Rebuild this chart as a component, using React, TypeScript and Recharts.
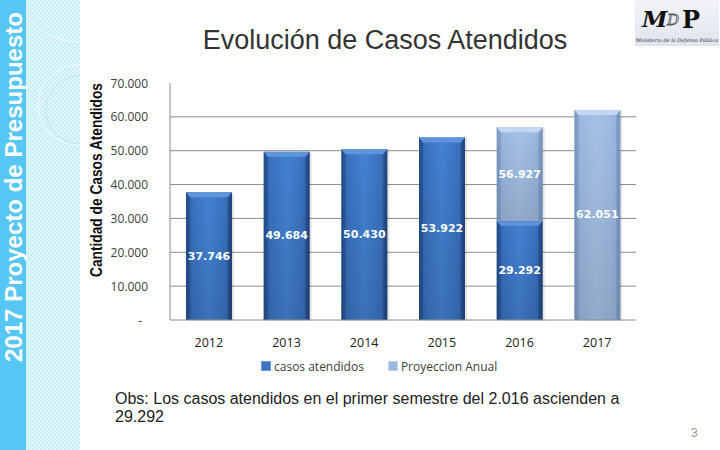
import React from 'react';
import {
  BarChart,
  Bar,
  XAxis,
  YAxis,
  CartesianGrid,
  Legend,
  LabelList,
  Label,
} from 'recharts';

// data
const years = ['2012', '2013', '2014', '2015', '2016', '2017'];
const casosAtendidos = [37746, 49684, 50430, 53922, 29292, 0];
const proyeccionAnual = [0, 0, 0, 0, 56927, 62051];
const yTicks = [0, 10000, 20000, 30000, 40000, 50000, 60000, 70000];
const gridValues = [10000, 20000, 30000, 40000, 50000, 60000];

const chartData = years.map((year, i) => ({
  year,
  casos: casosAtendidos[i],
  proyStack: proyeccionAnual[i] ? proyeccionAnual[i] - casosAtendidos[i] : 0,
  proyTotal: proyeccionAnual[i],
}));

const fmt = (v: number) => (v === 0 ? '-' : v.toLocaleString('de-DE'));

const LABEL_FONT = '"Open Sans", "Liberation Sans", sans-serif';

// Excel style bar: horizontal shading, bevelled top edge, soft shadow
const BevelBar = (props: any) => {
  const { x, y, width, height, tone } = props;
  if (!height || height <= 0) return null;
  const light = tone === 'light';
  const bevel = Math.min(5, height);
  return (
    <g>
      <rect x={x + 2} y={y + 1} width={width} height={height} fill="rgba(0,0,0,0.10)" />
      <rect x={x} y={y} width={width} height={height} fill={light ? 'url(#gLight)' : 'url(#gDark)'} />
      <rect x={x} y={y} width={width} height={height} fill="url(#gShade)" />
      <polygon
        points={`${x},${y} ${x + width},${y} ${x + width - 4},${y + bevel} ${x + 4},${y + bevel}`}
        fill={light ? '#c4d7ef' : '#5f94db'}
      />
      <polygon
        points={`${x},${y} ${x + 4},${y + bevel} ${x + 4},${y + height} ${x},${y + height}`}
        fill={light ? 'rgba(60,90,140,0.18)' : 'rgba(10,30,70,0.22)'}
      />
      <polygon
        points={`${x + width},${y} ${x + width - 4},${y + bevel} ${x + width - 4},${y + height} ${x + width},${y + height}`}
        fill={light ? 'rgba(60,90,140,0.22)' : 'rgba(10,30,70,0.28)'}
      />
    </g>
  );
};

const ValueLabel = (props: any) => {
  const { x, y, width, height, value } = props;
  if (!value) return null;
  return (
    <text
      x={x + width / 2}
      y={y + height / 2}
      textAnchor="middle"
      dominantBaseline="central"
      fill="#ffffff"
      fontFamily='"DejaVu Sans", sans-serif'
      fontWeight="bold"
      fontSize={11}
    >
      {fmt(value)}
    </text>
  );
};

const YTick = (props: any) => {
  const { x, y, payload } = props;
  const v = payload.value;
  return (
    <text
      x={v === 0 ? x - 6 : x}
      y={y}
      textAnchor="end"
      dominantBaseline="central"
      fill="#404040"
      fontFamily={LABEL_FONT}
      fontSize={12}
    >
      {fmt(v)}
    </text>
  );
};

const LegendContent = () => (
  <div
    style={{
      display: 'flex',
      alignItems: 'center',
      paddingLeft: 181,
      fontFamily: LABEL_FONT,
      fontSize: 12,
      color: '#404040',
      height: 20,
    }}
  >
    <span style={{ width: 8, height: 8, background: '#3b73c2', border: '1px solid #6b9de0', marginRight: 3 }} />
    <span style={{ marginRight: 24 }}>casos atendidos</span>
    <span style={{ width: 8, height: 8, background: '#9ab8de', border: '1px solid #c3d5ee', marginRight: 3 }} />
    <span>Proyeccion Anual</span>
  </div>
);

const SideBand = () => (
  <svg width={80} height={450} style={{ position: 'absolute', left: 0, top: 0 }}>
    <defs>
      <pattern id="checker" width="4" height="4" patternUnits="userSpaceOnUse">
        <rect width="4" height="4" fill="#dff6fc" />
        <rect width="2" height="2" fill="#c9eff9" />
        <rect x="2" y="2" width="2" height="2" fill="#c9eff9" />
      </pattern>
    </defs>
    <rect x={26} y={0} width={54} height={450} fill="url(#checker)" />
    <circle cx={78} cy={-20} r={62} fill="none" stroke="#ffffff" strokeOpacity={0.7} strokeWidth={1} />
    <circle cx={78} cy={105} r={40} fill="none" stroke="#ffffff" strokeOpacity={0.8} strokeWidth={1} />
    <circle cx={80} cy={110} r={34} fill="none" stroke="#b6dbe6" strokeOpacity={0.6} strokeWidth={1} />
    <rect x={0} y={0} width={26} height={450} fill="#56c6f4" />
    <text
      transform="translate(22, 362) rotate(-90)"
      fill="#ffffff"
      fontFamily='"Liberation Sans", Arial, sans-serif'
      fontWeight="bold"
      fontSize={23}
      textLength={350}
      lengthAdjust="spacingAndGlyphs"
    >
      2017 Proyecto de Presupuesto
    </text>
  </svg>
);

const Logo = () => (
  <svg width={84} height={46} style={{ position: 'absolute', left: 635, top: 0 }}>
    <defs>
      <linearGradient id="logoBg" x1="0" y1="0" x2="0" y2="1">
        <stop offset="0" stopColor="#f2f4f8" />
        <stop offset="1" stopColor="#dfe4ee" />
      </linearGradient>
    </defs>
    <rect x={0} y={0} width={84} height={46} fill="url(#logoBg)" />
    <text x={7} y={27} fontFamily='"DejaVu Serif", serif' fontStyle="italic" fontWeight="bold" fontSize={23} fill="#111">M</text>
    <text x={32} y={25} fontFamily='"DejaVu Serif", serif' fontStyle="italic" fontSize={15} fill="none" stroke="#555" strokeWidth={0.8}>D</text>
    <text x={47} y={28} fontFamily='"DejaVu Serif", serif' fontWeight="bold" fontSize={24} fill="#111">P</text>
    <text x={42} y={42} textAnchor="middle" fontFamily='"DejaVu Serif", serif' fontStyle="italic" fontSize={5} fill="#333">
      Ministerio de la Defensa Pública
    </text>
  </svg>
);

export default function App() {
  return (
    <div
      style={{
        position: 'absolute',
        left: 0,
        top: 0,
        width: 720,
        height: 450,
        background: '#ffffff',
        overflow: 'hidden',
      }}
    >
      <SideBand />
      <Logo />
      <div
        style={{
          position: 'absolute',
          left: 0,
          top: 24,
          width: 770,
          textAlign: 'center',
          fontFamily: '"Liberation Sans", Arial, sans-serif',
          fontSize: 27,
          color: '#333333',
          lineHeight: '32px',
        }}
      >
        Evolución de Casos Atendidos
      </div>
      <div style={{ position: 'absolute', left: 0, top: 0 }}>
        <BarChart
          width={720}
          height={450}
          data={chartData}
          margin={{ top: 83, right: 84, bottom: 74, left: 80 }}
          barSize={46}
        >
          <defs>
            <linearGradient id="gDark" x1="0" y1="0" x2="1" y2="0">
              <stop offset="0" stopColor="#2c5a9e" />
              <stop offset="0.15" stopColor="#3a72c0" />
              <stop offset="0.5" stopColor="#4382d2" />
              <stop offset="0.85" stopColor="#3a72c0" />
              <stop offset="1" stopColor="#2a5696" />
            </linearGradient>
            <linearGradient id="gLight" x1="0" y1="0" x2="1" y2="0">
              <stop offset="0" stopColor="#8ca9d2" />
              <stop offset="0.15" stopColor="#9cb9e0" />
              <stop offset="0.5" stopColor="#a6c2e6" />
              <stop offset="0.85" stopColor="#9cb9e0" />
              <stop offset="1" stopColor="#8aa6cf" />
            </linearGradient>
            <linearGradient id="gShade" x1="0" y1="0" x2="0" y2="1">
              <stop offset="0" stopColor="#000" stopOpacity={0} />
              <stop offset="1" stopColor="#000" stopOpacity={0.12} />
            </linearGradient>
          </defs>
          <CartesianGrid
            horizontal
            vertical={false}
            horizontalValues={gridValues}
            stroke="#8c8c8c"
            strokeWidth={1}
          />
          <XAxis
            dataKey="year"
            height={36}
            tickLine={false}
            axisLine={{ stroke: '#8c8c8c' }}
            tickMargin={12}
            tick={{ fill: '#222222', fontSize: 12.5, fontFamily: LABEL_FONT }}
          />
          <YAxis
            width={90}
            domain={[0, 70000]}
            ticks={yTicks}
            interval={0}
            tickLine={false}
            axisLine={{ stroke: '#8c8c8c' }}
            tick={<YTick />}
            tickMargin={16}
          >
            <Label
              content={() => (
                <text
                  transform={`translate(102, 180) rotate(-90)`}
                  textAnchor="middle"
                  fill="#111111"
                  fontFamily='"Liberation Sans", Arial, sans-serif'
                  fontWeight="bold"
                  fontSize={17}
                  textLength={194}
                  lengthAdjust="spacingAndGlyphs"
                >
                  Cantidad de Casos Atendidos
                </text>
              )}
            />
          </YAxis>
          <Legend verticalAlign="bottom" height={20} content={<LegendContent />} />
          <Bar
            dataKey="casos"
            name="casos atendidos"
            stackId="a"
            isAnimationActive={false}
            shape={(p: any) => <BevelBar {...p} tone="dark" />}
          >
            <LabelList dataKey="casos" content={<ValueLabel />} />
          </Bar>
          <Bar
            dataKey="proyStack"
            name="Proyeccion Anual"
            stackId="a"
            isAnimationActive={false}
            shape={(p: any) => <BevelBar {...p} tone="light" />}
          >
            <LabelList dataKey="proyTotal" content={<ValueLabel />} />
          </Bar>
        </BarChart>
      </div>
      <div
        style={{
          position: 'absolute',
          left: 115,
          top: 390,
          fontFamily: '"Liberation Sans", Arial, sans-serif',
          fontSize: 16,
          lineHeight: '18px',
          color: '#222222',
          width: 560,
        }}
      >
        Obs: Los casos atendidos en el primer semestre del 2.016 ascienden a
        <br />
        29.292
      </div>
      <div
        style={{
          position: 'absolute',
          left: 691,
          top: 426,
          fontFamily: '"Liberation Sans", Arial, sans-serif',
          fontSize: 12,
          color: '#9a9a9a',
        }}
      >
        3
      </div>
    </div>
  );
}
